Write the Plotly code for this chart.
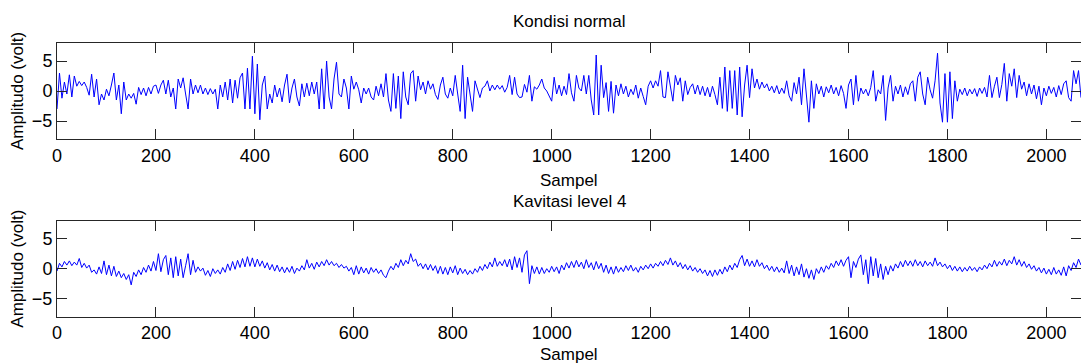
import plotly.graph_objects as go

STEP = 5  # samples between stored values

normal_vals = [
    -3, 3, -1.2, 1.5, -0.5, 2.7, -1, 2.5, 0.8, 1.6, 0.9, 1.5, 0.6, -0.7, 2.8, -1, 2, -2.3, -0.5, -1.5,
    0.3, -0.8, 1, 3, -1.5, 1, -3.8, 1.5, -1.5, -0.5, -1.2, -0.4, -2.2, 0.6, -0.6, 0.5, -0.8, 0.6, -0.5, 0.8,
    1, -0.4, 1, 1.8, -0.5, 1.8, -1, 0.5, -3, 2, 0.5, 2.2, -0.5, -3, 2, -0.5, 1, -0.3, 1, -0.5,
    0.5, -0.6, 0.4, -0.5, 0.3, -3, 1, -1, 1.5, -1.5, 2, -2, 1.8, -1.2, 2.2, 3, -3, 3.8, -3, 5.8,
    -3.8, 4.5, -4.8, 1, 2.5, -3, -0.5, -2, 1, -1, 0.5, -1.8, 1, 2.8, -2, 0.5, 2, -1, -2.5, 1.2,
    -1, 1.3, -0.8, 1.5, -0.5, 1.5, -3, 3.7, -3, 5, -1, -3, 2, 4.8, -0.5, -1, 2, 0.5, -3, 2.5,
    0.3, 1.5, 0.2, -2, 0.5, -0.5, 0.5, -1, -1.5, 0.8, -0.8, 1.2, -1, 2.9, -1.5, -3.4, 2.9, -2.9, 2.5, -4.6,
    3.2, -1, -2.3, 2.9, 3.4, -1.7, 2.5, 0.2, 1.5, -0.5, 1.7, 0.3, 1.2, -0.6, -1.4, 1, 2.3, -0.5, -1.2, 0.5,
    -0.8, 2.6, -0.5, -3.4, 4.3, -4.6, 2.3, -1, -3.4, 1.7, 0.2, -1.1, 0.5, 0.8, 1.7, 0, 1, 0.2, 1, 0.3,
    0.9, -0.2, 0.6, 2.6, -0.6, 2.3, -0.5, -1.1, -1, 1.1, -0.2, 2.6, -1.7, 0.7, 0.3, 1, 2, 0.5, 0, -0.8,
    -1.7, 2.3, -0.5, 1, -0.8, 0.8, -0.6, 2.9, -0.3, -1.7, 2.6, 0.5, 0, 2.6, -0.5, 2.6, -1.5, -4, 6, -4,
    4.3, -1.1, 1.4, -3.4, 1.6, -3.7, 1, -0.8, 1.2, -0.5, 0.8, -1, 0.3, -0.6, 1, -1.2, 0.5, -0.9, -2.3, 0.8,
    1.7, 0.5, 1.7, 0.8, 3.4, -1, -1.1, 3.2, 0.5, -1.7, 2.6, 1, 2.2, -1.7, 1.7, -0.6, 0.6, 1.2, -0.5, 1,
    -0.6, 0.8, -0.8, 0.6, -1, 0.8, -0.6, -2.3, 2.3, -2.9, 4, -3.4, 3.4, -2.9, 3.4, -4, 4, -4.3, 1, 4.3,
    -1.1, 3.7, 0.5, 2, 0.3, 1.5, 0.5, 1.2, 0, 0.8, -0.3, 0.9, -0.5, 0.5, -0.4, 1.7, -0.8, -1.7, 1.4, -0.5,
    2.3, -2.3, 3.7, -1, -5.2, 1.7, -2.9, 1.2, -0.5, 0.8, -1, 0.7, -0.3, 1, -0.5, 0.6, -0.8, 0.9, -0.4, -2.9,
    1, 2, -2.3, 2.6, -1.7, 0.5, -0.5, 0.3, -0.8, 0.6, 3.4, -1.7, 0.2, -0.5, 2.6, -4.9, 0.5, 2.6, -1.7, 0.8,
    -0.5, 1, -1, 0.7, -0.6, 1.2, 1.7, -1.7, 2.3, 3.2, -0.5, -2.3, 2.3, 0.2, -1.2, 1.7, 6.3, -2, -5.2, 2.9,
    -5.2, 3.2, -4.6, 1.7, -1.7, 0.3, -0.6, 0.5, -0.8, 0.3, -0.5, 0.4, -0.9, 0.5, -0.4, 0.6, -1, 2.6, -1.1, 0.8,
    2.3, -1.1, 1.1, 4.6, -1.7, 2.9, 0.8, 3.7, -1.1, 2.6, 0.3, 1.5, -0.8, 1.2, -0.5, 1, -1.3, 0.8, -2.3, 0.5,
    -0.8, 0.8, -0.4, 0.6, -1, 0.9, -0.6, 1.2, 1.7, -1.1, -1.7, 3.4, 1.2, 3.4, -1.1,
]

kavitasi_vals = [
    -0.4, 0.9, 0.3, 1.2, 0.6, 1.3, 0.5, 1.1, 0.6, 1.7, 0.2, 0.9, 0.1, 0.6, -0.6, -0.2, -0.9, 0.3, -0.8, 1.3,
    -1, 0.6, -1.2, 0.4, -1.3, -0.4, -1.5, -0.8, -1.8, -1, -2.7, -0.6, -1.3, -0.2, -1, 0.2, -0.6, 0.6, -0.4, 1.2,
    -0.3, 2.5, -0.5, 1.5, 2.2, -1, 1.8, -1.5, 2, -1.2, 1.6, -1.5, 0.5, 2.5, -1, 1.4, -0.6, 0.3, -0.4, 0.1,
    -1.1, -0.3, -1.3, 0, -0.8, -0.2, -0.9, 0.2, -0.6, 0.8, -0.3, 1.2, -0.1, 1.4, 0.2, 1.7, 0.3, 2, 0.4, 1.8,
    0.3, 1.6, 0.4, 1.3, 0.1, 1, -0.2, 0.7, -0.4, 0.6, -0.5, 0.3, -0.7, 0.2, -0.6, 0.4, -0.8, 0.1, -0.4, 0.5,
    -0.2, 1.5, 0.1, 0.9, -0.1, 1.1, 0.3, 1.2, 0.5, 1.5, 0.6, 1.2, 0.5, 0.9, 0.2, 0.7, 0.1, 0.4, -0.4, 0.2,
    -1, 0.5, -0.9, 0.3, -0.7, 0.1, -0.9, 0.2, -0.6, 0, -0.8, -0.2, -1.1, -1.5, -0.4, 0.4, -0.2, 0.9, 0.2, 1.5,
    0.5, 1.4, 0.8, 2.5, 1.2, 1.6, 0.4, 0.9, 0, 0.8, -0.2, 0.7, -0.3, 0.5, -0.8, 0.4, -0.9, 0.2, -1, 0.3,
    -0.7, 0.5, -1, 0.1, -0.8, -0.1, -1, -0.3, -0.9, 0, -0.6, 0.4, -0.3, 0.7, 0, 1.1, 0.3, 1.8, 0.4, 1.2,
    0.5, 1.5, 0.3, 1.6, -0.2, 2, 0.2, 1.8, -0.6, 2.3, 3, -2.5, 0.5, -0.8, 0.3, -0.9, 0.2, -0.8, 0, -0.6,
    0.4, -0.5, 0.3, -0.8, 0.6, -0.2, 1, 0.1, 1.2, 0.2, 1.4, 0.3, 1.1, 0, 1.5, 0.2, 1, -0.2, 1.2, 0,
    0.9, -0.6, 0.6, -0.8, 0.3, -0.9, 0.4, -0.6, 0.2, -0.5, 0.5, -0.3, 0.6, -0.4, 0.2, -0.6, 0.4, -0.2, 0.6, 0,
    0.8, 0.1, 0.9, 0.4, 1.2, 0.5, 1.4, 0.7, 1.8, 0.6, 1.3, 0.3, 1, 0, 0.7, -0.2, 0.5, -0.4, 0.2, -0.6,
    0, -0.8, -0.2, -1.2, -0.3, -1.3, -0.2, -1.1, -0.1, -0.9, 0.3, -0.5, 0.6, -0.2, 0.9, 0.2, 1.5, 2.2, 0.5, 1.6,
    0.4, 1.3, 0.3, 1.5, 0.4, 1, 0, 0.6, -0.3, 0.4, -0.5, 0.3, -0.6, 0.1, -0.7, 1.3, -0.8, 0.6, -1.2, 0.3,
    -1, 0.8, -1.4, 0, -1.6, -0.2, -1.8, 0, -0.8, 0.3, -0.6, 0.5, -0.1, 0.9, 0.2, 1.3, 0.5, 1.5, 0.4, 1.4,
    2, -1.5, 1.2, 0.2, 1.6, 2.3, -1, 1.5, -2.5, 2, -1.2, 1.7, -1.5, 0.8, -1.8, 0.4, -1, 0.5, -0.4, 0.8,
    0.1, 1.2, 0.3, 1.4, 0.5, 1.3, 0.4, 1.5, 0.5, 1.2, 0.3, 1.3, 0.5, 1.1, 0.4, 1.8, 0.5, 1.1, 0.3, 0.8,
    0, 0.6, -0.3, 0.4, -0.4, 0.3, -0.5, 0.2, -0.4, 0.4, -0.3, 0.2, -0.5, 0.3, -0.2, 0.6, 0, 0.9, 0.3, 1.4,
    0.4, 1.2, 0.6, 1.6, 0.5, 1.4, 0.8, 2, 0.6, 1.5, 0.4, 1.2, 0.2, 0.8, -0.1, 0.5, -0.4, 0.2, -0.7, 0.1,
    -0.9, -0.1, -1, 0.2, -0.9, -0.2, -1.1, 0.3, -1.2, 0.5, -0.3, 1, 0.2, 1.6, 0.6,
]

normal_samples = [i * STEP for i in range(len(normal_vals))]
kavitasi_samples = [i * STEP for i in range(len(kavitasi_vals))]

x_ticks = [0, 200, 400, 600, 800, 1000, 1200, 1400, 1600, 1800, 2000]
y_ticks = [-5, 0, 5]
titles = ["Kondisi normal", "Kavitasi level 4"]
x_label = "Sampel"
y_label = "Amplitudo (volt)"

W, H = 1081, 363
LEFT = 57
FONT = "Liberation Sans, Arial, sans-serif"
AX = "#262626"

fig = go.Figure()
fig.add_trace(go.Scatter(x=normal_samples, y=normal_vals, mode="lines",
                         line=dict(color="#0000ff", width=1), xaxis="x", yaxis="y",
                         showlegend=False, hoverinfo="skip"))
fig.add_trace(go.Scatter(x=kavitasi_samples, y=kavitasi_vals, mode="lines",
                         line=dict(color="#0000ff", width=1), xaxis="x2", yaxis="y2",
                         showlegend=False, hoverinfo="skip"))

def py(px):
    return 1 - px / H

xcommon = dict(range=[0, 2070], tickvals=x_ticks, ticks="inside", ticklen=10,
               tickcolor=AX, showline=True, linecolor=AX, linewidth=1, mirror="ticks",
               showgrid=False, zeroline=False, tickfont=dict(family=FONT, size=18, color="#000"),
               automargin=False)
ycommon = dict(range=[-8, 8], tickvals=y_ticks, ticks="inside", ticklen=10,
               tickcolor=AX, showline=True, linecolor=AX, linewidth=1, mirror="ticks",
               showgrid=False, zeroline=False, tickfont=dict(family=FONT, size=18, color="#000"),
               automargin=False)

fig.update_layout(
    width=W, height=H,
    margin=dict(l=LEFT, r=0, t=0, b=0),
    paper_bgcolor="white", plot_bgcolor="white",
    xaxis=dict(domain=[0, 1], anchor="y", **xcommon),
    yaxis=dict(domain=[py(139), py(43)], anchor="x", **ycommon),
    xaxis2=dict(domain=[0, 1], anchor="y2", **xcommon),
    yaxis2=dict(domain=[py(316.7), py(220.7)], anchor="x2", **ycommon),
)

ann_font = dict(family=FONT, size=17, color="#000")
def xp(px):
    return (px - LEFT) / (W - LEFT)

annotations = [
    dict(text=titles[0], x=xp(569), y=py(22)),
    dict(text=x_label, x=xp(569), y=py(180)),
    dict(text=titles[1], x=xp(569), y=py(201)),
    dict(text=x_label, x=xp(569), y=py(354)),
    dict(text=y_label, x=xp(18), y=py(91), textangle=-90),
    dict(text=y_label, x=xp(18), y=py(268.7), textangle=-90),
]
for a in annotations:
    fig.add_annotation(xref="paper", yref="paper", showarrow=False,
                       xanchor="center", yanchor="middle", font=ann_font, **a)

fig.write_html("out.html")
